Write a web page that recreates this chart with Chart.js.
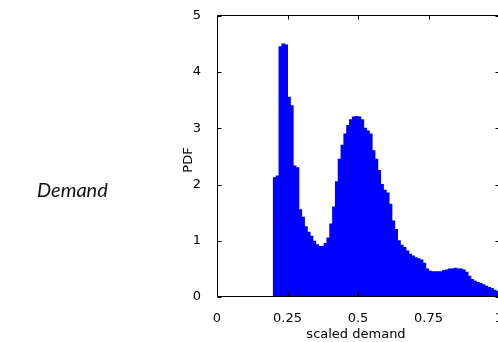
<!DOCTYPE html>
<html>
<head>
<meta charset="utf-8">
<script src="https://cdn.jsdelivr.net/npm/chart.js@4/dist/chart.umd.min.js"></script>
<style>
  html, body { margin: 0; padding: 0; background: #fff; overflow: hidden; width: 498px; height: 342px; }
  #wrap { position: absolute; left: 0; top: 0; width: 530px; height: 342px; }
</style>
</head>
<body>
<div id="wrap"><canvas id="c" width="530" height="342"></canvas></div>
<script>
// Histogram bin centres (bin width 0.01) on the scaled-demand axis
const binCenters = [
  0.205, 0.215, 0.225, 0.235, 0.245, 0.255, 0.265, 0.275, 0.285, 0.295,
  0.305, 0.315, 0.325, 0.335, 0.345, 0.355, 0.365, 0.375, 0.385, 0.395,
  0.405, 0.415, 0.425, 0.435, 0.445, 0.455, 0.465, 0.475, 0.485, 0.495,
  0.505, 0.515, 0.525, 0.535, 0.545, 0.555, 0.565, 0.575, 0.585, 0.595,
  0.605, 0.615, 0.625, 0.635, 0.645, 0.655, 0.665, 0.675, 0.685, 0.695,
  0.705, 0.715, 0.725, 0.735, 0.745, 0.755, 0.765, 0.775, 0.785, 0.795,
  0.805, 0.815, 0.825, 0.835, 0.845, 0.855, 0.865, 0.875, 0.885, 0.895,
  0.905, 0.915, 0.925, 0.935, 0.945, 0.955, 0.965, 0.975, 0.985, 0.995
];

// Estimated probability density per bin
const pdfValues = [
  2.12, 2.15, 4.45, 4.50, 4.48, 3.55, 3.40, 2.33, 2.30, 1.55,
  1.42, 1.25, 1.15, 1.08, 0.99, 0.93, 0.90, 0.90, 0.95, 1.05,
  1.30, 1.60, 2.05, 2.45, 2.70, 2.90, 3.05, 3.15, 3.20, 3.21,
  3.20, 3.15, 3.00, 2.95, 2.90, 2.60, 2.45, 2.25, 2.00, 1.90,
  1.85, 1.65, 1.35, 1.20, 1.00, 0.92, 0.88, 0.82, 0.76, 0.73,
  0.70, 0.68, 0.66, 0.60, 0.50, 0.46, 0.45, 0.45, 0.45, 0.45,
  0.47, 0.48, 0.50, 0.50, 0.51, 0.50, 0.50, 0.48, 0.44, 0.37,
  0.31, 0.28, 0.26, 0.24, 0.22, 0.19, 0.17, 0.15, 0.12, 0.10
];

const xTickValues = [0, 0.25, 0.5, 0.75, 1];
const xTickLabels = ['0', '0.25', '0.5', '0.75', '1'];
const yTickValues = [0, 1, 2, 3, 4, 5];
const yTickLabels = ['0', '1', '2', '3', '4', '5'];

const rowLabel = 'Demand';
const xTitle = 'scaled demand';
const yTitle = 'PDF';

const axisFont = { family: 'DejaVu Sans', size: 13 };
const ink = '#000';

// Boxed axes with inward ticks on all four sides, plus the axis titles
const framePlugin = {
  id: 'frame',
  afterDraw(chart) {
    const { ctx, chartArea: a, scales: { x, y } } = chart;
    const L = Math.floor(a.left) + 0.5;
    const R = Math.floor(a.right) + 0.5;
    const T = Math.floor(a.top) + 0.5;
    const B = Math.ceil(a.bottom) - 0.5;
    const tl = 4;
    ctx.save();
    ctx.strokeStyle = ink;
    ctx.lineWidth = 1;
    ctx.beginPath();
    ctx.rect(L, T, R - L, B - T);
    xTickValues.forEach(v => {
      const px = Math.round(x.getPixelForValue(v)) + 0.5;
      ctx.moveTo(px, B); ctx.lineTo(px, B - tl);
      ctx.moveTo(px, T); ctx.lineTo(px, T + tl);
    });
    yTickValues.forEach(v => {
      const py = Math.round(y.getPixelForValue(v)) + 0.5;
      ctx.moveTo(L, py); ctx.lineTo(L + tl, py);
      ctx.moveTo(R, py); ctx.lineTo(R - tl, py);
    });
    ctx.stroke();

    ctx.fillStyle = ink;
    ctx.font = `${axisFont.size}px "${axisFont.family}"`;
    ctx.textAlign = 'center';
    ctx.textBaseline = 'alphabetic';
    ctx.fillText(xTitle, 356, 338);

    ctx.save();
    ctx.translate(191.5, 160);
    ctx.rotate(-Math.PI / 2);
    ctx.fillText(yTitle, 0, 0);
    ctx.restore();

    // Row label on the left, italic
    ctx.font = 'italic 20px Lato';
    ctx.fillStyle = '#111';
    ctx.textAlign = 'left';
    ctx.fillText(rowLabel, 37, 197);
    ctx.restore();
  }
};

new Chart(document.getElementById('c'), {
  type: 'bar',
  data: {
    datasets: [{
      data: binCenters.map((c, i) => ({ x: c, y: pdfValues[i] })),
      backgroundColor: '#0000ff',
      borderWidth: 0,
      barPercentage: 1,
      categoryPercentage: 1,
      inflateAmount: 0.5
    }]
  },
  options: {
    responsive: false,
    animation: false,
    devicePixelRatio: 1,
    layout: { padding: { top: 14, right: 31, left: 0, bottom: 0 } },
    plugins: { legend: { display: false }, tooltip: { enabled: false } },
    scales: {
      x: {
        type: 'linear',
        min: 0,
        max: 1,
        offset: false,
        grid: { display: false },
        border: { display: false },
        afterBuildTicks: s => { s.ticks = xTickValues.map(v => ({ value: v })); },
        afterFit: s => { s.height = 45; s.paddingLeft = 0; s.paddingRight = 0; },
        ticks: {
          callback: v => xTickLabels[xTickValues.indexOf(v)] ?? '',
          font: axisFont,
          color: ink,
          padding: 6,
          maxRotation: 0,
          autoSkip: false
        }
      },
      y: {
        min: 0,
        max: 5,
        grid: { display: false },
        border: { display: false },
        afterBuildTicks: s => { s.ticks = yTickValues.map(v => ({ value: v })); },
        afterFit: s => { s.width = 217; },
        ticks: {
          callback: v => yTickLabels[yTickValues.indexOf(v)] ?? '',
          font: axisFont,
          color: ink,
          padding: 8
        }
      }
    }
  },
  plugins: [framePlugin]
});
</script>
</body>
</html>
